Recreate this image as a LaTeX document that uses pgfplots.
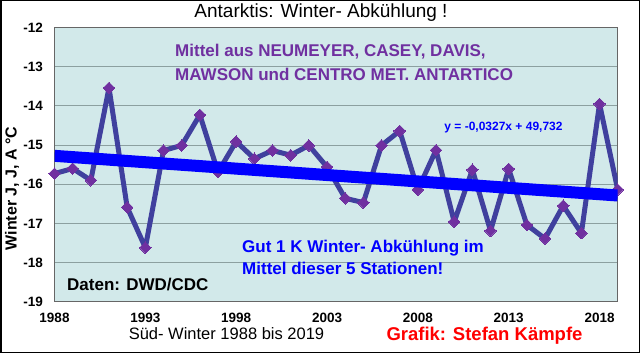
\documentclass[border=0pt]{standalone}
\usepackage{fontspec}
\setmainfont{Liberation Sans}
\usepackage{pgfplots}
\pgfplotsset{compat=1.18}
\definecolor{bgc}{RGB}{210,233,234}
\definecolor{linec}{RGB}{64,64,158}
\definecolor{markc}{RGB}{112,48,160}
\definecolor{gridc}{RGB}{140,160,160}
\definecolor{trendc}{RGB}{0,0,255}
\begin{document}
\begin{tikzpicture}[x=1bp,y=1bp]
\fill[white] (0,0) rectangle (640,353);
\begin{axis}[
  at={(54.5bp,51.3bp)}, anchor=south west,
  scale only axis, width=563.2bp, height=274.2bp,
  xmin=1988, xmax=2019, ymin=-19, ymax=-12,
  xtick={1988,1993,...,2018}, ytick={-19,-18,...,-12},
  ymajorgrids, grid style={gridc, line width=0.8bp},
  axis background/.style={fill=bgc},
  axis line style={draw=gray!80!black, line width=0.8bp},
  major tick length=0pt,
  /pgf/number format/assume math mode=true,
  /pgf/number format/set thousands separator={},
  ticklabel style={font=\fontsize{13.5bp}{15bp}\selectfont\bfseries, inner sep=0pt},
  yticklabel style={anchor=east, xshift=-11.5bp},
  xticklabel style={anchor=center, yshift=-16.3bp},
  clip mode=individual,
]
\addplot[linec, line width=5bp, line join=round, mark=square*, mark size=4.1bp,
  mark options={fill=markc, draw=markc, rotate=45, line width=0pt}] coordinates {
(1988,-15.73) (1989,-15.60) (1990,-15.90) (1991,-13.54) (1992,-16.59)
(1993,-17.62) (1994,-15.14) (1995,-15.01) (1996,-14.23) (1997,-15.69)
(1998,-14.91) (1999,-15.35) (2000,-15.14) (2001,-15.26) (2002,-15.01)
(2003,-15.56) (2004,-16.36) (2005,-16.47) (2006,-15.01) (2007,-14.64)
(2008,-16.14) (2009,-15.13) (2010,-16.96) (2011,-15.63) (2012,-17.19)
(2013,-15.61) (2014,-17.04) (2015,-17.39) (2016,-16.55) (2017,-17.25)
(2018,-13.95) (2019,-16.14)};
\addplot[trendc, line width=12bp] coordinates {(1988,-15.276) (2019,-16.289)};
\end{axis}
\draw[black, line width=1.5bp] (0.75,0.75) rectangle (639.25,352.25);
% title
\node[anchor=mid, inner sep=0pt] at (321,338) {\fontsize{19bp}{21bp}\selectfont Antarktis: Winter- Abkühlung !};
% y label
\node[anchor=mid, inner sep=0pt, rotate=90] at (14,164.5) {\fontsize{16bp}{18bp}\selectfont\bfseries Winter J, J, A °C};
% annotations
\node[anchor=mid west, inner sep=0pt, text=markc] at (175,299) {\fontsize{17bp}{19bp}\selectfont\bfseries Mittel aus NEUMEYER, CASEY, DAVIS,};
\node[anchor=mid west, inner sep=0pt, text=markc] at (175,275) {\fontsize{17bp}{19bp}\selectfont\bfseries MAWSON und CENTRO MET. ANTARTICO};
\node[anchor=mid, inner sep=0pt, text=trendc] at (503.5,225) {\fontsize{12bp}{14bp}\selectfont\bfseries y = -0,0327x + 49,732};
\node[anchor=mid west, inner sep=0pt, text=trendc] at (242,103) {\fontsize{17bp}{19bp}\selectfont\bfseries Gut 1 K Winter- Abkühlung im};
\node[anchor=mid west, inner sep=0pt, text=trendc] at (242,81) {\fontsize{17bp}{19bp}\selectfont\bfseries Mittel dieser 5 Stationen!};
\node[anchor=mid west, inner sep=0pt, text=black] at (67,65) {\fontsize{17bp}{19bp}\selectfont\bfseries Daten: DWD/CDC};
% bottom texts
\node[anchor=mid, inner sep=0pt] at (226.5,15.8) {\fontsize{16.5bp}{18bp}\selectfont Süd- Winter 1988 bis 2019};
\node[anchor=mid, inner sep=0pt, text=red] at (484.5,15.3) {\fontsize{18.5bp}{20bp}\selectfont\bfseries Grafik: Stefan Kämpfe};
\end{tikzpicture}
\end{document}
